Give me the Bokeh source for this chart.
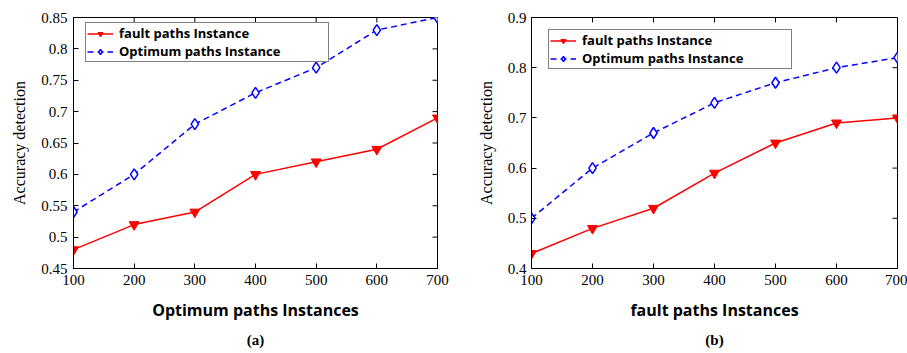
import math
from bokeh.plotting import figure
from bokeh.layouts import row
from bokeh.models import FixedTicker, Legend, LegendItem, Title, Range1d
from bokeh.embed import file_html
from bokeh.resources import INLINE

x_vals = [100, 200, 300, 400, 500, 600, 700]
x_labels = ["100", "200", "300", "400", "500", "600", "700"]

a_fault = [0.48, 0.52, 0.54, 0.60, 0.62, 0.64, 0.69]
a_optimum = [0.54, 0.60, 0.68, 0.73, 0.77, 0.83, 0.85]
a_yticks = [0.45, 0.5, 0.55, 0.6, 0.65, 0.7, 0.75, 0.8, 0.85]
a_ylabels = ["0.45", "0.5", "0.55", "0.6", "0.65", "0.7", "0.75", "0.8", "0.85"]

b_fault = [0.43, 0.48, 0.52, 0.59, 0.65, 0.69, 0.70]
b_optimum = [0.50, 0.60, 0.67, 0.73, 0.77, 0.80, 0.82]
b_yticks = [0.4, 0.5, 0.6, 0.7, 0.8, 0.9]
b_ylabels = ["0.4", "0.5", "0.6", "0.7", "0.8", "0.9"]

SERIF = "Liberation Serif"
SANS = "Open Sans"


def style_axis(ax, ticks, labels):
    ax.ticker = FixedTicker(ticks=ticks)
    ax.major_label_overrides = {t: l for t, l in zip(ticks, labels)}
    ax.major_tick_in = 5
    ax.major_tick_out = 0
    ax.minor_tick_line_color = None
    ax.axis_line_color = "black"
    ax.major_tick_line_color = "black"
    ax.major_label_text_font = SERIF
    ax.major_label_text_font_size = "15px"
    ax.major_label_text_color = "black"


def make_panel(fault, optimum, yticks, ylabels, yr, xlabel, caption,
               width, bl, br, bt, bb, legend_loc, ystandoff):
    p = figure(width=width, height=353, output_backend="svg", toolbar_location=None,
               x_range=Range1d(x_vals[0], x_vals[-1]), y_range=Range1d(*yr),
               min_border_left=bl, min_border_right=br, min_border_top=bt,
               min_border_bottom=bb)
    p.grid.visible = False
    p.outline_line_color = "black"
    p.outline_line_width = 1
    p.background_fill_color = "white"
    p.border_fill_color = "white"

    style_axis(p.xaxis[0], x_vals, x_labels)
    style_axis(p.yaxis[0], yticks, ylabels)
    p.xaxis[0].major_label_standoff = 6
    p.yaxis[0].major_label_standoff = ystandoff

    p.xaxis[0].axis_label = xlabel
    p.xaxis[0].axis_label_text_font = SANS
    p.xaxis[0].axis_label_text_font_style = "bold"
    p.xaxis[0].axis_label_text_font_size = "16px"
    p.xaxis[0].axis_label_standoff = 11
    p.xaxis[0].axis_label_text_color = "black"

    p.yaxis[0].axis_label = "Accuracy detection"
    p.yaxis[0].axis_label_text_font = SERIF
    p.yaxis[0].axis_label_text_font_style = "normal"
    p.yaxis[0].axis_label_text_font_size = "16px"
    p.yaxis[0].axis_label_standoff = 10
    p.yaxis[0].axis_label_text_color = "black"

    # inward tick marks on the top and right edges (clipped to the frame)
    p.scatter(x_vals, [yr[1]] * len(x_vals), marker="dash", angle=math.pi / 2,
              size=10, line_color="black", line_width=1)
    p.scatter([x_vals[-1]] * len(yticks), yticks, marker="dash",
              size=10, line_color="black", line_width=1)

    l1 = p.line(x_vals, fault, line_color="#ff0000", line_width=1.5)
    m1 = p.scatter(x_vals, fault, marker="inverted_triangle", size=10,
                   fill_color="#ff0000", line_color="#ff0000")
    l2 = p.line(x_vals, optimum, line_color="#0000ff", line_width=1.5, line_dash="6 4")
    m2 = p.scatter(x_vals, optimum, marker="diamond", size=11,
                   fill_color="white", line_color="#0000ff", line_width=1.5)

    legend = Legend(items=[
        LegendItem(label="fault paths Instance", renderers=[l1, m1]),
        LegendItem(label="Optimum paths Instance", renderers=[l2, m2]),
    ], location=legend_loc)
    legend.border_line_color = "black"
    legend.border_line_width = 1.5
    legend.label_text_font = SANS
    legend.label_text_font_style = "bold"
    legend.label_text_font_size = "13px"
    legend.label_text_color = "black"
    legend.label_height = 13
    legend.glyph_height = 13
    legend.glyph_width = 26
    legend.label_width = 208
    legend.label_standoff = 6
    legend.spacing = 0
    legend.padding = 1
    legend.margin = 0
    legend.background_fill_alpha = 1
    p.add_layout(legend, "center")

    cap = Title(text=caption, align="center", text_font=SERIF, text_font_style="bold",
                text_font_size="15px", text_color="black", standoff=12)
    p.add_layout(cap, "below")
    return p


p1 = make_panel(a_fault, a_optimum, a_yticks, a_ylabels, (0.45, 0.85),
                "Optimum paths Instances", "(a)", 453, 73, 16, 16, 85, (12, 206), 6)
p2 = make_panel(b_fault, b_optimum, b_yticks, b_ylabels, (0.4, 0.9),
                "fault paths Instances", "(b)", 454, 78, 10, 17, 85, (17, 199), 5)

layout = row(p1, p2, spacing=0)
open("out.html", "w").write(file_html(layout, INLINE))
